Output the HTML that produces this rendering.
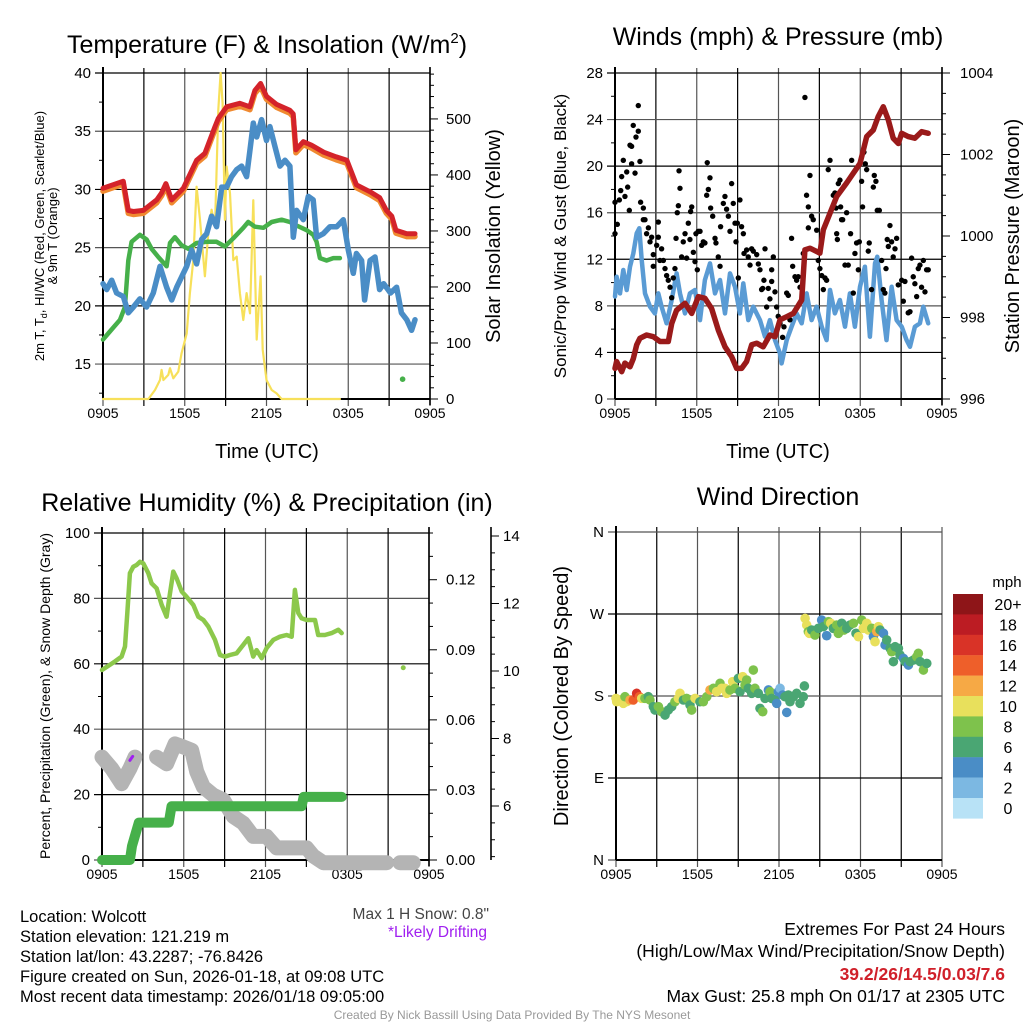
<!DOCTYPE html>
<html><head><meta charset="utf-8">
<style>
html,body{margin:0;padding:0;background:#fff;}
svg{display:block;font-family:"Liberation Sans",Arial,sans-serif;}
</style></head>
<body>
<svg id="fig" width="1024" height="1024" viewBox="0 0 1024 1024" xmlns="http://www.w3.org/2000/svg">
<rect width="1024" height="1024" fill="#fff"/>
<text x="267" y="53" font-size="25" text-anchor="middle">Temperature (F) &amp; Insolation (W/m<tspan dy="-10" font-size="15">2</tspan><tspan dy="10">)</tspan></text>
<text x="778" y="45" font-size="25" text-anchor="middle">Winds (mph) &amp; Pressure (mb)</text>
<text x="267" y="511" font-size="25" text-anchor="middle">Relative Humidity (%) &amp; Precipitation (in)</text>
<text x="778" y="505" font-size="25" text-anchor="middle">Wind Direction</text>
<text x="267" y="458" font-size="20" text-anchor="middle">Time (UTC)</text>
<text x="778" y="458" font-size="20" text-anchor="middle">Time (UTC)</text>
<text transform="translate(44,236) rotate(-90)" font-size="13" text-anchor="middle">2m T, T<tspan font-size="9" dy="3">d</tspan><tspan dy="-3">, HI/WC (Red, Green, Scarlet/Blue)</tspan></text>
<text transform="translate(57,236) rotate(-90)" font-size="13" text-anchor="middle">&amp; 9m T (Orange)</text>
<text transform="translate(500,236) rotate(-90)" font-size="20" text-anchor="middle">Solar Insolation (Yellow)</text>
<text transform="translate(566,236) rotate(-90)" font-size="17" text-anchor="middle">Sonic/Prop Wind &amp; Gust (Blue, Black)</text>
<text transform="translate(1019,236) rotate(-90)" font-size="20" text-anchor="middle">Station Pressure (Maroon)</text>
<text transform="translate(50,696) rotate(-90)" font-size="14" text-anchor="middle">Percent, Precipitation (Green), &amp; Snow Depth (Gray)</text>
<text transform="translate(568,696) rotate(-90)" font-size="20" text-anchor="middle">Direction (Colored By Speed)</text>
<text x="1007" y="587" font-size="15" text-anchor="middle">mph</text>
<text x="489" y="919" font-size="15.5" fill="#444" text-anchor="end">Max 1 H Snow: 0.8"</text>
<text x="487" y="937" font-size="15.5" fill="#a020f0" text-anchor="end">*Likely Drifting</text>
<g font-size="16.5">
<text x="20" y="922">Location: Wolcott</text>
<text x="20" y="942">Station elevation: 121.219 m</text>
<text x="20" y="962">Station lat/lon: 43.2287; -76.8426</text>
<text x="20" y="982">Figure created on Sun, 2026-01-18, at 09:08 UTC</text>
<text x="20" y="1002">Most recent data timestamp: 2026/01/18 09:05:00</text>
</g>
<g font-size="17.5" text-anchor="end">
<text x="1005" y="935">Extremes For Past 24 Hours</text>
<text x="1005" y="957">(High/Low/Max Wind/Precipitation/Snow Depth)</text>
<text x="1005" y="980" fill="#d0202a" font-weight="bold">39.2/26/14.5/0.03/7.6</text>
<text x="1005" y="1002">Max Gust: 25.8 mph On 01/17 at 2305 UTC</text>
</g>
<text x="512" y="1019" font-size="12" fill="#999" text-anchor="middle">Created By Nick Bassill Using Data Provided By The NYS Mesonet</text>
</svg>
<script>
// ---- data (hours since 0905 UTC) ----
const timeTickLabels = ["0905","1505","2105","0305","0905"];
const tempTicks = [15,20,25,30,35,40];
const solarTicks = [0,100,200,300,400,500];
const redHours = [0,1.49,1.86,2.23,2.96,3.94,4.3,4.62,5.04,5.89,6.87,7.48,8.22,8.46,9.07,10.05,10.78,11.15,11.57,12.0,12.74,13.72,13.96,14.16,14.7,15.3,16.2,17.1,17.9,18.6,19.6,20.3,20.8,21.2,21.5,22.3,22.9];
const redTemps = [30.1,30.7,28.2,28.1,28.2,29.1,29.7,30.5,29.1,30.1,32.5,33.1,35.4,36.1,37.1,37.4,37.1,38.5,39.1,38.0,37.3,36.8,36.5,33.4,34.1,33.8,33.2,32.8,32.5,30.4,29.8,29.3,28.2,27.7,26.5,26.2,26.2];
const blueHours = [0,0.27,0.64,1.0,1.49,1.86,2.23,2.71,3.2,3.69,4.18,4.67,5.04,5.41,6.14,6.51,6.87,7.24,7.61,7.97,8.34,8.71,9.07,9.44,9.81,10.17,10.54,10.79,11.03,11.28,11.64,12.0,12.25,12.62,12.99,13.36,13.72,13.97,14.21,14.7,15.07,15.43,15.68,16.17,16.66,17.15,17.64,18.0,18.37,18.6,18.98,19.2,19.6,19.96,20.3,20.6,21.1,21.55,21.9,22.3,22.65,22.9];
const blueTemps = [21.9,21.4,22.2,21.1,20.8,19.4,19.9,20.6,19.9,21.1,23.4,21.6,20.5,21.6,23.4,24.8,23.6,25.7,26.2,27.7,26.8,30.2,30.2,31.1,31.7,32.0,31.1,33.4,35.7,34.5,36.0,34.2,35.4,33.7,32.0,32.5,32.0,25.9,28.2,27.4,29.4,29.1,25.9,26.2,26.8,26.8,27.4,24.8,22.8,24.5,23.9,20.5,23.9,24.2,21.4,21.9,21.1,21.6,19.4,18.8,17.9,18.8];
const greenHours = [0,0.51,1.25,1.61,1.86,2.1,2.71,3.2,3.57,4.06,4.67,4.92,5.28,5.77,6.26,6.87,7.61,8.34,8.95,9.56,10.3,10.66,11.15,11.77,12.38,13.11,13.72,14.21,14.95,15.43,15.68,15.92,16.41,16.9,17.39];
const greenTemps = [17.1,17.8,18.8,19.9,23.9,25.5,26.1,25.7,24.9,24.2,23.4,25.4,25.9,25.2,24.9,25.4,25.5,25.5,25.1,25.8,26.7,27.2,26.8,26.7,27.2,27.4,27.2,26.9,26.5,26.1,25.5,24.1,23.9,24.1,24.1];
const greenDot = [21.99,13.7];
const solarHours = [0,3.33,3.82,4.18,4.3,4.43,4.79,4.92,5.16,5.53,5.77,6.14,6.38,6.63,6.87,7.12,7.48,7.73,7.97,8.22,8.46,8.63,8.78,8.95,9.07,9.32,9.56,9.81,10.05,10.3,10.54,10.79,11.03,11.28,11.57,11.72,12.0,12.38,12.74,13.11,17.39];
const solarVals = [0,0,16,34,52,34,43,55,37,49,82,117,189,248,379,320,219,296,338,308,516,582,528,320,415,367,248,254,189,141,189,153,355,106,219,88,34,16,10,0,0];

const windTicks = [0,4,8,12,16,20,24,28];
const presTicks = [996,998,1000,1002,1004];
const presHours = [0,0.12,0.49,0.73,1.1,1.34,1.59,1.83,2.32,2.81,3.3,3.91,4.16,4.52,5.14,5.63,6.12,6.6,7.09,7.58,8.07,8.56,8.93,9.29,9.66,10.03,10.4,10.88,11.37,11.74,12.11,12.6,13.09,13.7,13.94,14.31,15.04,15.29,15.78,16.27,17.0,17.49,17.98,18.47,18.96,19.32,19.69,20.06,20.42,20.79,21.04,21.52,22.01,22.5,22.99];
const presVals = [996.75,996.92,996.67,996.88,996.79,996.99,997.33,997.49,997.57,997.53,997.41,997.41,997.85,998.18,998.35,998.10,998.51,998.47,998.22,997.69,997.28,997.04,996.75,996.75,996.92,997.33,997.37,997.28,997.57,997.53,997.94,998.02,998.10,998.43,999.66,999.70,999.58,1000.15,1000.56,1000.97,1001.30,1001.54,1001.78,1002.44,1002.60,1002.93,1003.17,1002.85,1002.40,1002.27,1002.52,1002.44,1002.40,1002.56,1002.52];
const windHours = [0,0.12,0.37,0.61,0.86,1.1,1.34,1.59,1.78,1.96,2.2,2.57,2.93,3.18,3.42,3.79,4.16,4.52,4.77,5.14,5.5,5.87,6.24,6.6,6.97,7.34,7.71,8.07,8.44,8.81,9.17,9.42,9.78,10.15,10.64,11.01,11.37,11.74,12.11,12.23,12.6,12.96,13.33,13.7,14.06,14.43,14.8,15.17,15.53,15.78,16.14,16.51,16.88,17.24,17.61,17.98,18.34,18.71,19.08,19.25,19.57,19.93,20.3,20.67,21.04,21.4,21.65,22.01,22.38,22.63,22.99];
const windVals = [8.8,10.5,9.07,11.08,9.36,11.36,12.5,14.23,14.66,11.94,9.07,7.93,7.35,9.07,7.93,6.5,8.5,10.79,9.07,7.35,9.07,9.36,6.78,10.22,11.65,9.07,10.22,7.35,10.79,9.64,7.35,9.93,6.78,7.93,6.78,5.35,6.78,5.06,3.92,3.06,5.06,6.21,7.35,6.5,9.07,6.78,7.93,6.21,5.06,9.36,7.35,8.5,6.21,9.07,6.21,9.64,11.36,5.35,11.65,12.22,8.5,5.06,9.64,6.78,6.21,5.06,4.49,6.21,6.5,7.93,6.5];
const gustHours = [0,0,0.17,0.32,0.42,0.49,0.61,0.73,0.86,0.93,1.05,1.1,1.22,1.22,1.34,1.47,1.54,1.71,1.71,1.83,1.88,2.08,2.08,2.2,2.32,2.45,2.57,2.69,2.81,2.81,3.06,3.18,3.18,3.3,3.42,3.55,3.67,3.79,3.91,4.04,4.16,4.28,4.4,4.48,4.57,4.65,4.7,4.77,4.89,5.01,5.14,5.26,5.38,5.5,5.55,5.63,5.75,5.87,5.94,6.04,6.11,6.24,6.36,6.48,6.6,6.73,6.77,6.85,6.97,7.02,7.17,7.34,7.41,7.58,7.71,7.75,7.95,8.07,8.19,8.32,8.44,8.56,8.68,8.81,8.88,8.98,9.05,9.17,9.29,9.42,9.47,9.66,9.78,9.91,10.03,10.15,10.4,10.52,10.64,10.76,10.84,10.93,11.01,11.13,11.25,11.37,11.5,11.5,11.62,11.74,11.86,11.98,12.11,12.3,12.4,12.6,12.72,12.84,12.96,13.04,13.21,13.33,13.45,13.58,13.82,13.94,14.06,14.19,14.19,14.31,14.43,14.55,14.8,14.92,15.04,15.17,15.29,15.41,15.53,15.65,15.78,16.02,16.14,16.22,16.27,16.32,16.39,16.51,16.56,16.63,16.71,16.88,17.0,17.12,17.29,17.37,17.49,17.61,17.73,17.86,17.93,18.1,18.17,18.27,18.37,18.47,18.59,18.66,18.83,18.96,19.03,19.15,19.25,19.4,19.57,19.69,19.81,19.89,19.98,20.06,20.18,20.3,20.42,20.55,20.67,20.79,21.04,21.16,21.28,21.52,21.65,21.77,21.89,22.01,22.14,22.26,22.38,22.5,22.63,22.75,22.87,22.99];
const gustVals = [14.2,16.9,15.0,17.1,17.9,19.1,20.5,17.4,19.5,18.2,16.2,21.8,21.7,20.2,23.5,19.4,22.5,23.0,25.2,20.4,16.9,16.4,15.4,15.4,14.2,14.7,13.5,13.9,12.4,11.4,13.2,15.2,13.9,11.9,12.9,11.9,11.2,10.6,10.2,9.6,8.7,10.4,11.2,13.8,16.0,16.6,19.6,18.1,12.2,13.5,14.2,12.1,15.1,13.7,16.1,16.5,12.6,11.8,14.2,11.1,14.4,14.4,13.2,13.5,13.4,17.5,20.3,18.0,19.0,16.4,15.7,13.8,13.4,12.2,11.4,14.8,16.8,17.4,16.3,15.7,14.4,18.5,16.8,15.1,13.5,15.1,10.4,17.1,14.8,14.2,12.5,12.8,12.2,11.5,12.9,12.7,12.4,11.6,11.1,9.4,9.5,10.2,12.9,7.9,9.5,8.6,11.1,10.1,12.2,9.2,7.9,7.1,6.5,5.3,6.2,9.1,8.9,6.8,13.8,11.4,10.5,10.2,10.5,9.6,12.5,25.9,17.5,14.7,16.5,19.2,15.7,15.4,14.5,11.9,11.2,10.6,9.4,10.4,10.2,19.7,20.5,17.5,17.7,16.4,14.2,13.7,18.5,18.8,16.5,15.4,15.4,11.5,16.0,11.5,14.2,20.5,9.1,12.5,13.4,11.1,13.5,18.7,16.5,21.2,20.2,19.7,12.7,13.4,9.4,18.2,19.2,18.7,16.2,16.2,11.9,9.4,9.1,11.2,13.7,13.1,14.9,13.5,12.2,12.9,13.8,9.8,10.2,8.4,10.1,7.4,7.5,12.1,10.5,9.9,8.8,11.2,11.5,9.6,11.9,9.2,11.1,11.1];

const rhTicks = [0,20,40,60,80,100];
const precipTicks = [0,0.03,0.06,0.09,0.12];
const precipTickLabels = ["0.00","0.03","0.06","0.09","0.12"];
const snowTicks = [6,8,10,12,14];
const rhHours = [0,0.59,0.95,1.44,1.69,1.86,2.05,2.3,2.54,2.79,3.03,3.4,3.64,4.01,4.38,4.74,4.99,5.23,5.48,5.85,6.21,6.7,7.07,7.44,7.8,8.29,8.66,9.02,9.39,9.88,10.37,10.74,11.1,11.35,11.72,12.08,12.57,13.06,13.55,13.92,14.16,14.41,14.65,15.02,15.63,15.87,16.36,16.85,17.34,17.59];
const rhVals = [58.1,59.7,60.7,62.2,65.3,75.5,87.7,89.7,90.2,91.2,90.7,87.7,84.6,83.1,78.0,74.4,81.6,88.2,86.1,82.1,80.5,78.0,74.4,73.4,71.4,67.3,62.7,62.2,62.7,63.2,65.8,67.8,62.2,64.2,61.7,64.8,67.3,68.3,68.8,68.3,82.6,75.5,73.9,73.4,73.4,68.8,68.8,69.4,70.4,69.4];
const rhDot = [22.11,58.8];
const precipHours = [0,2.05,2.2,2.45,2.7,4.9,5.1,14.65,14.8,17.6];
const precipVals = [0,0,0.006,0.011,0.016,0.016,0.023,0.023,0.027,0.027];
const snowHoursA = [0,0.71,1.44,2.05,2.42];
const snowValsA = [7.45,7.11,6.66,7.11,7.45];
const snowHoursB = [4.01,4.74,5.36,5.97,6.58,6.95,7.44,8.17,8.9,9.64,10.37,11.1,12.08,12.82,13.55,15.02,15.51,16.24,20.89];
const snowValsB = [7.45,7.25,7.84,7.75,7.65,7.02,6.56,6.32,6.18,5.69,5.49,5.1,5.1,4.76,4.76,4.76,4.52,4.32,4.32];
const snowHoursC = [21.87,22.84];
const snowValsC = [4.32,4.32];
const driftHours = [2.05,2.25];
const driftVals = [7.35,7.47];

const dirTickLabels = ["N","E","S","W","N"];
const dirTicks = [0,90,180,270,360];
const dirHours = [0,0.05,0.29,0.54,0.78,0.66,1.03,1.27,1.52,1.72,1.89,2.13,2.38,2.5,2.75,2.87,3.12,3.36,3.61,3.85,4.1,4.34,4.59,4.71,4.96,5.2,5.45,5.57,5.82,6.18,6.43,6.68,6.92,7.17,7.41,7.66,7.78,8.03,8.15,8.39,8.59,8.76,9.01,9.13,9.33,9.5,9.62,9.74,9.99,10.11,10.23,10.48,10.6,10.8,10.97,11.22,11.34,11.46,11.71,11.83,11.95,12.08,12.27,12.44,12.57,12.69,12.81,13.06,13.3,13.55,13.79,13.87,13.92,14.04,14.16,14.24,14.41,14.65,14.9,15.14,15.27,15.51,15.64,15.81,16.0,16.25,16.37,16.62,16.79,16.99,17.23,17.48,17.67,17.85,18.09,18.21,18.46,18.58,18.83,18.95,19.07,19.2,19.32,19.44,19.69,19.81,19.93,20.18,20.3,20.42,20.55,20.79,20.91,21.16,21.28,21.53,21.65,21.9,22.14,22.26,22.39,22.63,22.88];
const dirVals = [177.4,173.7,175.6,171.9,173.7,179.2,175.6,175.6,182.9,179.2,177.4,177.4,179.2,175.6,168.3,164.6,168.3,162.8,159.1,164.6,168.3,173.7,177.4,182.9,175.6,177.4,170.1,164.6,177.4,173.7,173.7,179.2,186.6,188.4,184.7,193.9,188.4,188.4,182.9,186.6,195.7,188.4,199.4,184.7,201.2,192.0,197.5,188.4,182.9,208.5,188.4,182.9,166.4,162.8,177.4,186.6,184.7,177.4,175.6,171.9,184.7,188.4,181.1,179.2,162.0,181.1,173.7,179.2,182.9,171.9,179.2,191.0,265.2,257.9,250.6,248.8,252.4,246.9,254.3,263.4,256.1,246.2,261.6,259.8,254.3,257.9,248.8,259.8,252.4,254.3,257.9,259.8,248.8,245.1,263.4,254.3,259.8,252.4,254.3,245.1,239.6,250.6,256.1,252.4,248.8,236.0,241.5,232.3,228.6,217.7,234.1,232.3,225.0,221.3,217.7,214.0,217.7,219.5,223.1,226.8,217.7,208.5,215.8];
const dirSpeeds = [10,10,10,10,10,8,12,14,16,14,10,8,6,8,6,6,8,8,6,6,6,8,10,10,6,8,6,8,10,6,8,8,12,8,10,8,10,10,10,8,10,8,6,6,10,8,8,6,6,8,8,6,6,8,6,4,8,6,6,4,4,2,4,6,4,6,6,6,6,6,6,6,10,10,8,10,6,8,6,4,6,4,8,10,6,8,8,6,8,6,6,8,6,10,8,10,10,10,8,4,10,12,10,6,4,4,6,6,8,6,6,6,6,4,6,4,6,6,8,8,6,8,6];
const cbLabels = ["20+","18","16","14","12","10","8","6","4","2","0"];
const cbColors = ["#8e1518","#bc1c23","#d93327","#ee5f2a","#f6a945","#e8e05c","#7ec24c","#4aa673","#4a8dc6","#7cb8e2","#b8e2f6"];

// ---- drawing ----
const NS = "http://www.w3.org/2000/svg";
const svg = document.getElementById("fig");
function mk(tag, attrs, parent) {
  const e = document.createElementNS(NS, tag);
  for (const k in attrs) e.setAttribute(k, attrs[k]);
  (parent || svg).appendChild(e);
  return e;
}
function txt(x, y, s, size, anchor, parent) {
  const t = mk("text", {x: x, y: y, "font-size": size, "text-anchor": anchor}, parent);
  t.textContent = s;
  return t;
}
function lin(d0, d1, r0, r1) { return v => r0 + (v - d0) / (d1 - d0) * (r1 - r0); }

function panelFrame(name, x0, x1, y0, y1, yTicks, yScale, yMinor, yLabels) {
  const g = mk("g", {});
  
  
  const xs = lin(0, 24, x0, x1);
  for (let h = 0; h <= 24; h += 3) {
    const x = xs(h);
    const l = mk("line", {x1: x, x2: x, y1: y0 - 5, y2: y1 + 7, stroke: (h % 6 ? "#000" : "#555"), "stroke-width": 1.2}, g);
    
  }
  timeTickLabels.forEach((s, i) => {
    const t = txt(xs(i * 6), y1 + 19, s, 14, "middle", g);
    
  });
  yTicks.forEach((v, i) => {
    const y = yScale(v);
    const l = mk("line", {x1: x0 - 8, x2: x1, y1: y, y2: y, stroke: (i % 2 ? "#000" : "#555"), "stroke-width": 1.2}, g);
    
    const t = txt(x0 - 12, y + 5, yLabels ? yLabels[i] : String(v), 15, "end", g);
    
  });
  yMinor.forEach(v => {
    const y = yScale(v);
    const l = mk("line", {x1: x0 - 4, x2: x0, y1: y, y2: y, stroke: "#000", "stroke-width": 1}, g);
    
  });
  mk("line", {x1: x0, x2: x0, y1: y0 - 6, y2: y1, stroke: "#000", "stroke-width": 2}, g);
  mk("line", {x1: x0, x2: x1, y1: y1, y2: y1, stroke: "#000", "stroke-width": 2}, g);
  return xs;
}
function rightAxis(name, x, y0, y1, ticks, scale, minor, labels, lx) {
  const g = mk("g", {});
  
  
  mk("line", {x1: x, x2: x, y1: y0 - 6, y2: y1 + 6, stroke: "#000", "stroke-width": 1.6}, g);
  ticks.forEach((v, i) => {
    const y = scale(v);
    mk("line", {x1: x, x2: x + 8, y1: y, y2: y, stroke: "#000", "stroke-width": 1}, g);
    const t = txt(lx, y + 5, labels ? labels[i] : String(v), 15, "start", g);
    
  });
  minor.forEach(v => { mk("line", {x1: x, x2: x + 4, y1: scale(v), y2: scale(v), stroke: "#000", "stroke-width": 1}, g); });
}
function path(name, hs, vs, xs, ys, color, w, parent) {
  let d = "";
  hs.forEach((h, i) => { d += (i ? "L" : "M") + xs(h).toFixed(1) + "," + ys(vs[i]).toFixed(1); });
  const p = mk("path", {d: d, fill: "none", stroke: color, "stroke-width": w, "stroke-linejoin": "round", "stroke-linecap": "round"}, parent);
  
  
  return p;
}
function range(a, b, s) { const r = []; for (let v = a; v <= b + 1e-9; v += s) r.push(+v.toFixed(4)); return r; }

// Panel 1
const t1y = lin(12, 40, 399, 73);
const s1y = lin(0, 582, 399, 73);
const x1s = panelFrame("temp-panel", 103, 430, 73, 399, tempTicks, t1y, range(12.5, 37.5, 5), null);
rightAxis("solar-axis", 430, 73, 399, solarTicks, s1y, range(20, 580, 20).filter(v => v % 100), null, 446);
path("solar-line", solarHours, solarVals, x1s, s1y, "#f7e05a", 2.2);
path("dewpoint-line", greenHours, greenTemps, x1s, t1y, "#46b04a", 4.5);
path("windchill-line", blueHours, blueTemps, x1s, t1y, "#4a8dc6", 5.5);
path("temp-9m-line", redHours, redTemps.map(v => v - 0.25), x1s, t1y, "#f08a30", 5.5);
path("temp-2m-line", redHours, redTemps, x1s, t1y, "#d4232a", 5);
const gd = mk("circle", {cx: x1s(greenDot[0]), cy: t1y(greenDot[1]), r: 2.8, fill: "#46b04a"});


// Panel 2
const w2y = lin(0, 28, 399, 73);
const p2y = lin(996, 1004, 399, 73);
const x2s = panelFrame("wind-panel", 615, 942, 73, 399, windTicks, w2y, range(2, 26, 4), null);
rightAxis("pressure-axis", 942, 73, 399, presTicks, p2y, range(996.5, 1003.5, 0.5).filter(v => v % 2), null, 960);
path("wind-speed-line", windHours, windVals, x2s, w2y, "#5a9bd4", 4.5);
const gg = mk("g", {fill: "#000"});

gustHours.forEach((h, i) => {
  const c = mk("circle", {cx: x2s(h), cy: w2y(gustVals[i]), r: 2.7}, gg);
  
});
path("pressure-line", presHours, presVals, x2s, p2y, "#9a1a1a", 5.5);

// Panel 3
const r3y = lin(0, 100, 860, 533);
const pr3y = lin(0, 0.14, 860, 533);
const sn3y = lin(14, 4.4, 536, 860);
const x3s = panelFrame("rh-panel", 102, 429, 533, 860, rhTicks, r3y, range(10, 90, 20), null);
rightAxis("precip-axis", 429, 533, 860, precipTicks, pr3y, range(0.01, 0.14, 0.01).filter((v, i) => (i + 1) % 3), precipTickLabels, 446);
rightAxis("snow-axis", 491, 533, 854, snowTicks, sn3y, range(4.5, 13.5, 0.5).filter(v => v % 2), null, 503);
path("snow-depth-a", snowHoursA, snowValsA, x3s, sn3y, "#b4b4b4", 15);
path("snow-depth-b", snowHoursB, snowValsB, x3s, sn3y, "#b4b4b4", 15);
path("snow-depth-c", snowHoursC, snowValsC, x3s, sn3y, "#b4b4b4", 15);
path("drift-mark", driftHours, driftVals, x3s, sn3y, "#a020f0", 3);
path("precip-line", precipHours, precipVals, x3s, pr3y, "#46b04a", 10);
path("rh-line", rhHours, rhVals, x3s, r3y, "#8cc84b", 4.5);
const rd = mk("circle", {cx: x3s(rhDot[0]), cy: r3y(rhDot[1]), r: 2.5, fill: "#8cc84b"});


// Panel 4
const d4y = lin(0, 360, 860, 532);
const x4s = panelFrame("wdir-panel", 616, 942, 532, 860, dirTicks, d4y, [], dirTickLabels);
const dg = mk("g", {});

dirHours.forEach((h, i) => {
  const idx = Math.max(0, Math.min(10, 10 - Math.round(dirSpeeds[i] / 2)));
  const c = mk("circle", {cx: x4s(h), cy: d4y(dirVals[i]), r: 4.8, fill: cbColors[idx]}, dg);
  
});
const cb = mk("g", {});

cbColors.forEach((c, i) => {
  const r = mk("rect", {x: 953, y: 594 + i * 20.4, width: 30, height: 20.6, fill: c}, cb);
  
  const t = txt(1008, 594 + i * 20.4 + 16, cbLabels[i], 16, "middle", cb);
  
});
</script>
</body></html>
